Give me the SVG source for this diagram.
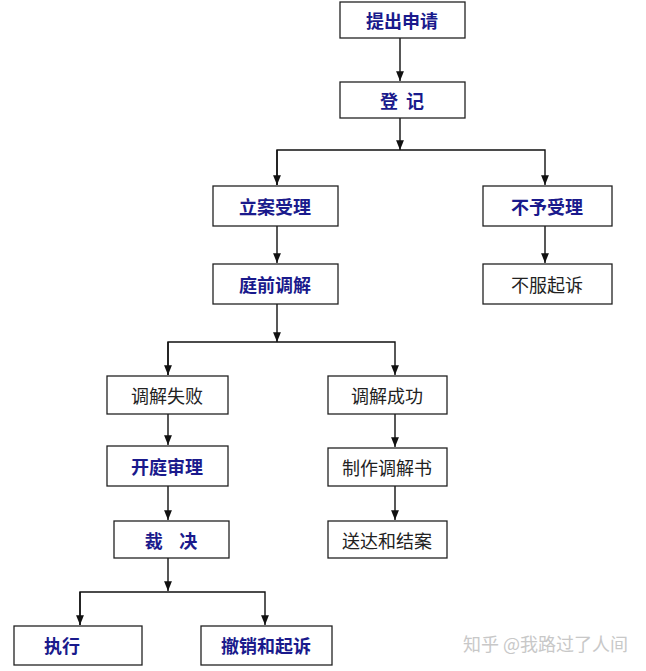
<svg xmlns="http://www.w3.org/2000/svg" width="646" height="671" viewBox="0 0 646 671">
<style>
.b{fill:#fff;stroke:#222;stroke-width:1.3}
.t{font-family:"Noto Sans CJK SC",sans-serif;font-size:18px;text-anchor:middle;dominant-baseline:central}
.k{fill:#1a1a8c;font-weight:bold}
.n{fill:#222}
.c{stroke:#111;stroke-width:1.4;fill:none}
</style>
<defs><marker id="a" viewBox="0 0 10 10" refX="10" refY="5" markerWidth="7" markerHeight="7" orient="auto"><path d="M0,1 L10,5 L0,9 Z" fill="#111"/></marker></defs>
<rect width="646" height="671" fill="#fff"/>
<g id="connectors">
<path class="c" d="M400,38 V81" marker-end="url(#a)"/>
<path class="c" d="M400,118 V150" marker-end="url(#a)"/>
<path class="c" d="M277,185 V150 H545 V185" marker-end="url(#a)"/>
<path class="c" d="M277,150 V185" marker-end="url(#a)"/>
<path class="c" d="M277,226 V263" marker-end="url(#a)"/>
<path class="c" d="M545,226 V263" marker-end="url(#a)"/>
<path class="c" d="M277,304 V342" marker-end="url(#a)"/>
<path class="c" d="M168,375 V342 H395 V375" marker-end="url(#a)"/>
<path class="c" d="M168,342 V375" marker-end="url(#a)"/>
<path class="c" d="M168,414 V445" marker-end="url(#a)"/>
<path class="c" d="M395,414 V447" marker-end="url(#a)"/>
<path class="c" d="M168,486 V520" marker-end="url(#a)"/>
<path class="c" d="M395,486 V520" marker-end="url(#a)"/>
<path class="c" d="M168,558 V591" marker-end="url(#a)"/>
<path class="c" d="M80,625 V592 H265 V625" marker-end="url(#a)"/>
<path class="c" d="M80,592 V625" marker-end="url(#a)"/>
</g>
<g id="n1"><rect class="b" x="340" y="2" width="125" height="36"/><text class="t k" x="402" y="20">提出申请</text></g>
<g id="n2"><rect class="b" x="340" y="82" width="125" height="36"/><text class="t k" x="402" y="100" xml:space="preserve">登  记</text></g>
<g id="n3"><rect class="b" x="213" y="186" width="125" height="40"/><text class="t k" x="275" y="206">立案受理</text></g>
<g id="n4"><rect class="b" x="483" y="186" width="129" height="40"/><text class="t k" x="547" y="206">不予受理</text></g>
<g id="n5"><rect class="b" x="483" y="264" width="129" height="40"/><text class="t n" x="547" y="284">不服起诉</text></g>
<g id="n6"><rect class="b" x="213" y="264" width="125" height="40"/><text class="t k" x="275" y="284">庭前调解</text></g>
<g id="n7"><rect class="b" x="107" y="376" width="121" height="38"/><text class="t n" x="167" y="395">调解失败</text></g>
<g id="n8"><rect class="b" x="328" y="376" width="119" height="38"/><text class="t n" x="387" y="395">调解成功</text></g>
<g id="n9"><rect class="b" x="107" y="446" width="121" height="40"/><text class="t k" x="167" y="466">开庭审理</text></g>
<g id="n10"><rect class="b" x="328" y="448" width="119" height="38"/><text class="t n" x="387" y="467">制作调解书</text></g>
<g id="n11"><rect class="b" x="114" y="521" width="115" height="37"/><text class="t k" x="171" y="540" xml:space="preserve">裁    决</text></g>
<g id="n12"><rect class="b" x="328" y="521" width="119" height="37"/><text class="t n" x="387" y="540">送达和结案</text></g>
<g id="n13"><rect class="b" x="14" y="626" width="128" height="39"/><text class="t k" x="62" y="645">执行</text></g>
<g id="n14"><rect class="b" x="201" y="626" width="131" height="39"/><text class="t k" x="266" y="645">撤销和起诉</text></g>
<text x="628" y="643" font-family="Noto Sans CJK SC,sans-serif" font-size="18" fill="#c8c8c8" text-anchor="end" dominant-baseline="central">知乎 @我路过了人间</text>
</svg>
